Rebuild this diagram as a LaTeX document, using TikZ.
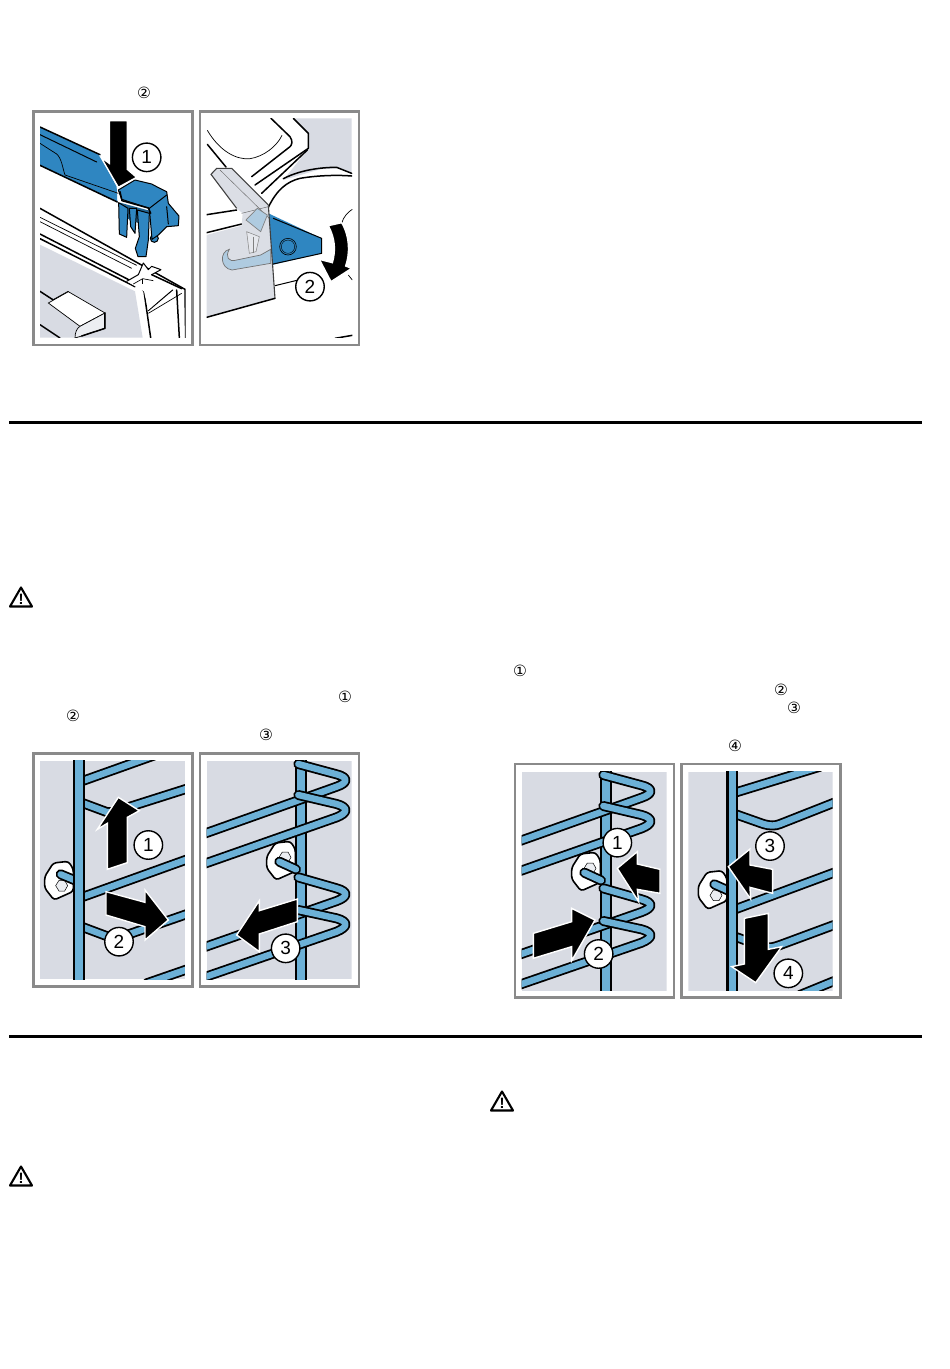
\documentclass[tikz,border=0pt]{standalone}
\usepackage{fontspec}
\setmainfont{Liberation Sans}
\newfontfamily\symfont{DejaVu Sans}
\definecolor{pgray}{HTML}{D8DBE3}
\definecolor{fgray}{HTML}{8A8A8A}
\definecolor{dblue}{HTML}{2F86C1}
\definecolor{wblue}{HTML}{6CB0D6}
\definecolor{lblock}{HTML}{ECEEF2}
\definecolor{tblue}{HTML}{AFCBE0}
\tikzset{
 zm/.style 2 args={shift={(#1pt,-#2pt)},x=0.33333pt,y=-0.33333pt},
 framebox/.style={draw=fgray,line width=2.7pt,fill=white},
 callout/.style={circle,draw=black,line width=1.4pt,fill=white,minimum size=28.5pt,inner sep=0pt,font=\fontsize{19}{19}\selectfont},
 bigarrow/.style={fill=black,draw=white,line width=1.4pt,miter limit=10},
 inlinenum/.style={font=\symfont\fontsize{15.5}{15.5}\selectfont,inner sep=0pt},
 warntri/.style={draw=black,line width=2.1pt,line join=round,fill=white},
 warnmark/.style={font=\fontsize{15}{15}\selectfont\bfseries,inner sep=0pt},
 thk/.style={line width=1.5pt,line cap=round,line join=round},
 med/.style={line width=1pt,line cap=round,line join=round},
 thn/.style={line width=0.7pt},
 rule/.style={line width=3pt},
}
\newcommand{\wirepath}[1]{\draw[line width=10pt,line join=round,line cap=round] #1;\draw[line width=6.4pt,wblue,line join=round,line cap=round] #1;}
\newcommand{\rodpath}[2]{\fill[black] (#1-18,#2) rectangle (#1+18,#2+680);\fill[wblue] (#1-11,#2) rectangle (#1+11,#2+680);}
\newcommand{\washer}[4]{%
 \draw[line width=1.6pt,fill=white,rounded corners=3pt] (#1-17,#2-53) -- (#1+28,#2-58) -- (#1+43,#2-35) -- (#1+43,#2+32) -- (#1-15,#2+58) -- (#1-43,#2+22) -- (#1-43,#2-12) -- cycle;
 \draw[line width=.5pt,fill=lblock] (#3-18,#4) -- (#3-8,#4-16) -- (#3+9,#4-16) -- (#3+18,#4) -- (#3+9,#4+16) -- (#3-8,#4+16) -- cycle;}
\newcommand{\hairpins}{%
 \wirepath{(835,72) -- (950,103) .. controls (985,112) and (985,128) .. (950,140) -- (500,300)}
 \wirepath{(835,165) -- (950,192) .. controls (985,202) and (985,218) .. (950,232) -- (500,390)}
 \wirepath{(835,412) -- (950,445) .. controls (985,455) and (985,470) .. (950,483) -- (500,640)}
 \wirepath{(835,510) -- (950,535) .. controls (985,545) and (985,560) .. (950,575) -- (500,730)}
}
\newcommand{\warnsign}[3]{%
 \draw[warntri] (#1,#2-9.5) -- (#1+11,#2+9.5) -- (#1-11,#2+9.5) -- cycle;
 \node[warnmark] (#3) at (#1,#2+2.5) {!};}
\begin{document}
\begin{tikzpicture}[x=1pt,y=-1pt]
\useasboundingbox (0,0) rectangle (950,1369);
\fill[white] (0,0) rectangle (950,1369);
% rules
\coordinate (r1a) at (9,422.5); \coordinate (r1b) at (922,422.5);
\coordinate (r2a) at (9,1036); \coordinate (r2b) at (922,1036);
\draw[rule] (r1a) -- (r1b);
\draw[rule] (r2a) -- (r2b);
% inline numbers
\node[inlinenum] (t1) at (144,93) {②};
\node[inlinenum] (t2) at (345,697) {①};
\node[inlinenum] (t3) at (73,716) {②};
\node[inlinenum] (t4) at (266,735) {③};
\node[inlinenum] (t5) at (520,671) {①};
\node[inlinenum] (t6) at (781,690) {②};
\node[inlinenum] (t7) at (794,708) {③};
\node[inlinenum] (t8) at (735,746) {④};
\warnsign{21}{597}{w1}
\warnsign{21}{1176}{w2}
\warnsign{502}{1101}{w3}
% ---------- PANEL 1
\begin{scope}[zm={20}{80}]
\draw[framebox] (40,95) rectangle (517,795);
\begin{scope}
\clip (60,115) rectangle (497,773);
\fill[pgray] (60,494) -- (345,634) -- (368,773) -- (60,773) -- cycle;
% door rails
\draw[thk] (60,385) -- (495,628) -- (497,773);
\draw[thn] (60,412) -- (350,556);
\draw[thn] (60,425) -- (335,565);
\draw[thk] (60,462) -- (355,614) -- (372,634) -- (392,773);
\draw[thk] (60,476) -- (345,620);
\draw[thk] (470,630) -- (478,773);
\draw[med] (385,692) -- (458,630);
\draw[thn] (385,700) -- (485,640);
% clip on door
\fill[white] (320,604) -- (355,584) -- (370,549) -- (385,569) -- (395,559) -- (423,569) -- (395,584) -- (455,625) -- (385,690) -- (372,634) -- cycle;
\draw[med] (320,604) -- (355,584) -- (370,549) -- (385,569) -- (395,559) -- (423,569) -- (395,584);
\draw[thn] (368,596) -- (368,612);
\draw[thn] (340,612) -- (368,596) -- (400,602);
\draw[thk] (395,584) -- (485,626);
% handle block
\draw[thk] (60,634) -- (100,660) -- (145,635);
\draw[thn,fill=white] (85,669) -- (145,635) -- (255,699) -- (180,739) -- cycle;
\draw[thn,fill=lblock] (180,739) -- (255,699) -- (255,745) -- (185,768) -- (165,774) .. controls (165,758) and (170,745) .. cycle;
\draw[thk] (60,734) -- (120,774);
\draw[thk] (255,699) -- (255,745) -- (185,768);
% arm
\fill[dblue] (60,141) -- (240,226) -- (290,320) -- (292,366) -- (60,256) -- cycle;
\draw[thk] (60,141) -- (240,224);
\draw[med] (60,164) -- (230,246);
\draw[thk] (60,256) -- (292,366);
\draw[thn] (60,190) -- (110,222) .. controls (125,235) and (128,265) .. (135,285);
\draw[thn] (135,285) -- (295,340);
% legs
\fill[dblue!75!black] (300,368) -- (388,392) -- (386,440) -- (330,420) -- (300,400) -- cycle;
\draw[med,fill=dblue] (296,368) -- (298,462) -- (320,472) -- (324,385) -- cycle;
\draw[med,fill=dblue] (328,385) -- (332,440) -- (345,460) -- (350,385) -- cycle;
\draw[med,fill=dblue] (352,390) -- (358,470) -- (346,505) -- (354,530) -- (378,530) -- (385,480) -- (388,400) -- cycle;
\draw[med,fill=dblue] (403,475) circle (12);
% head
\draw[med,fill=dblue] (295,330) -- (345,300) -- (395,312) -- (410,320) -- (440,335) -- (445,370) -- (477,408) -- (475,437) -- (440,440) -- (415,465) -- (396,478) -- (388,385) -- (305,358) -- cycle;
\draw[thk] (300,335) -- (306,362) -- (385,384) -- (392,400);
\draw[med] (388,385) -- (440,345);
\draw[med] (440,380) -- (445,432);
\end{scope}
\draw[bigarrow] (268,122) -- (322,122) -- (322,268) -- (350,292) -- (295,322) -- (243,232) -- (268,250) -- cycle;
\node[callout] (c1) at (380,232) {1};
\end{scope}
% ---------- PANEL 2
\begin{scope}[zm={20}{80}]
\draw[framebox] (540,95) rectangle (1017,795);
\begin{scope}
\clip (560,115) rectangle (997,773);
\fill[pgray] (820,115) -- (995,115) -- (995,280) -- (960,265) -- (900,268) -- (790,300) -- (862,210) -- (868,165) -- cycle;
% wires / appliance
\draw[thk] (753,115) -- (810,170) .. controls (820,185) and (815,195) .. (810,200) -- (695,290);
\draw[thk] (820,115) -- (865,160) -- (865,205) -- (705,315);
\draw[thk] (862,210) -- (725,340);
\draw[thk] (790,296) .. controls (850,265) and (920,262) .. (950,262) -- (995,280);
\draw[thk] (745,382) .. controls (770,330) and (800,305) .. (840,295) .. controls (900,285) and (960,285) .. (995,288);
\draw[thn] (562,151) .. controls (600,215) and (650,240) .. (690,236) .. controls (730,230) and (770,200) .. (786,166);
\draw[thk] (562,193) -- (618,261);
\draw[thk] (560,404) -- (650,390);
\draw[thk] (560,458) -- (665,432);
\draw[med] (765,617) -- (835,600);
\draw[thk] (945,775) -- (997,766);
\draw[thn] (965,430) .. controls (970,410) and (985,395) .. (997,388);
\draw[thn] (985,585) -- (997,600);
% blue part
\fill[dblue] (745,400) -- (905,475) -- (905,520) -- (755,555) -- cycle;
\draw[med] (760,415) -- (905,475) -- (905,520) -- (755,553);
\draw[line width=.6pt] (804,500) circle (25);
\draw[line width=.4pt] (804,500) circle (20);
% door
\fill[pgray,opacity=.9] (573,283) -- (590,265) -- (635,265) -- (745,375) -- (765,655) -- (560,712) -- (560,465) -- (665,437) -- (668,400) -- (650,385) -- cycle;
\draw[line width=1.1pt,black!75] (650,385) -- (573,283) -- (590,265) -- (635,265) -- (745,375);
\draw[line width=1.1pt,black!75] (745,375) -- (765,655);
\draw[thk] (560,712) -- (765,655);
\draw[line width=.4pt,black!60] (600,270) -- (748,415);
\draw[line width=.4pt,black!60] (665,400) -- (745,380);
% hook
\draw[line width=.7pt,black!50,fill=tblue] (678,420) -- (712,385) -- (742,405) -- (722,455) -- cycle;
\draw[line width=.5pt,black!50,fill=lblock!70!pgray] (680,455) -- (718,470) -- (708,515) -- (688,520) -- cycle;
\draw[line width=.4pt,black!50] (700,470) -- (700,520);
\draw[line width=.7pt,black!55,fill=tblue] (628,508) .. controls (598,515) and (600,565) .. (636,570) -- (752,550) -- (752,508) -- (722,525) -- (650,540) .. controls (625,548) and (615,530) .. cycle;
\end{scope}
\draw[bigarrow] (925,437) -- (965,428) .. controls (990,470) and (990,520) .. (977,558) -- (995,565) -- (933,605) -- (898,538) -- (937,548) .. controls (948,510) and (945,475) .. cycle;
\node[callout] (c2) at (870,620) {2};
\end{scope}
% ---------- PANEL 3
\begin{scope}[zm={20}{740}]
\draw[framebox] (40,40) rectangle (517,740);
\begin{scope}
\clip (60,62) rectangle (495,718);
\fill[pgray] (60,62) rectangle (495,718);
\wirepath{(190,122) -- (420,40)}
\wirepath{(190,190) -- (260,216) -- (280,216) -- (510,143)}
\wirepath{(190,470) -- (510,355)}
\wirepath{(190,562) -- (270,592) -- (300,592) -- (510,519)}
\wirepath{(380,730) -- (510,685)}
\washer{117}{422}{125}{437}
\wirepath{(122,403) -- (170,423)}
\rodpath{177}{50}
\end{scope}
\draw[bigarrow] (262,388) -- (322,368) -- (322,232) -- (358,212) -- (295,172) -- (232,268) -- (262,250) -- cycle;
\draw[bigarrow] (258,455) -- (375,487) -- (375,450) -- (445,540) -- (375,600) -- (375,560) -- (258,525) -- cycle;
\node[callout] (c3) at (385,315) {1};
\node[callout] (c4) at (297,605) {2};
\end{scope}
% ---------- PANEL 4
\begin{scope}[zm={20}{740}]
\draw[framebox] (540,40) rectangle (1017,740);
\begin{scope}
\clip (560,62) rectangle (995,718);
\fill[pgray] (560,62) rectangle (995,718);
\rodpath{843}{50}
\washer{783}{362}{795}{352}
\wirepath{(778,365) -- (828,388)}
\hairpins
\end{scope}
\draw[bigarrow] (832,477) -- (832,545) -- (718,582) -- (718,635) -- (650,585) -- (718,482) -- (718,512) -- cycle;
\node[callout] (c5) at (797,625) {3};
\end{scope}
% ---------- PANEL 5
\begin{scope}[zm={500}{750}]
\draw[framebox] (45,42) rectangle (522,742);
\begin{scope}
\clip (65,65) rectangle (500,722);
\fill[pgray] (65,65) rectangle (500,722);
\begin{scope}[xshift=-175pt,yshift=-1pt]
\rodpath{843}{50}
\washer{783}{362}{795}{352}
\wirepath{(778,365) -- (828,388)}
\hairpins
\end{scope}
\end{scope}
\draw[bigarrow] (480,358) -- (480,430) -- (412,418) -- (416,455) -- (352,355) -- (412,305) -- (412,342) -- cycle;
\draw[bigarrow] (100,550) -- (215,515) -- (215,475) -- (285,510) -- (215,632) -- (215,590) -- (100,625) -- cycle;
\node[callout] (c6) at (352,278) {1};
\node[callout] (c7) at (296,612) {2};
\end{scope}
% ---------- PANEL 6
\begin{scope}[zm={500}{750}]
\draw[framebox] (545,42) rectangle (1022,742);
\begin{scope}
\clip (565,65) rectangle (998,722);
\fill[pgray] (565,65) rectangle (998,722);
\wirepath{(705,128) -- (960,50)}
\wirepath{(705,192) -- (790,222) .. controls (810,228) and (825,228) .. (840,222) -- (1010,155)}
\wirepath{(705,478) -- (1010,365)}
\wirepath{(705,560) -- (790,590) .. controls (810,596) and (825,590) .. (840,585) -- (1010,522)}
\wirepath{(900,735) -- (1010,690)}
\washer{638}{420}{648}{436}
\wirepath{(643,403) -- (690,424)}
\rodpath{697}{50}
\end{scope}
\draw[bigarrow] (818,358) -- (818,430) -- (750,412) -- (752,447) -- (685,350) -- (750,297) -- (750,345) -- cycle;
\draw[bigarrow] (733,505) -- (805,490) -- (805,598) -- (845,590) -- (767,698) -- (695,650) -- (733,642) -- cycle;
\node[callout] (c8) at (810,288) {3};
\node[callout] (c9) at (865,670) {4};
\end{scope}
\end{tikzpicture}
\end{document}
